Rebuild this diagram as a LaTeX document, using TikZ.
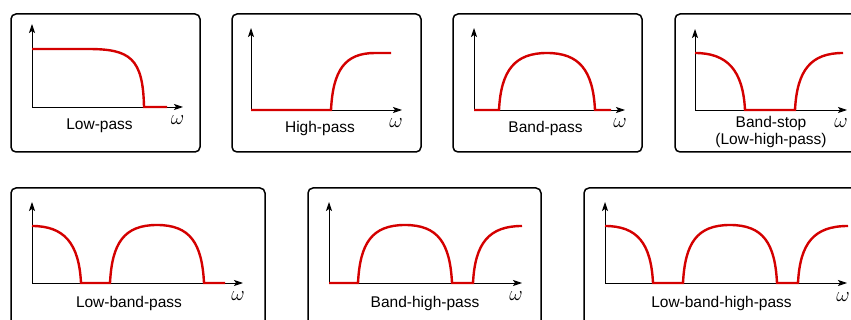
\documentclass[tikz,border=0pt]{standalone}
\usepackage{fontspec}
\setmainfont{Liberation Sans}
\usetikzlibrary{arrows.meta}

\definecolor{respred}{RGB}{212,0,0}

\begin{document}
\begin{tikzpicture}[
  x=1pt, y=-1pt,
  panel/.style={draw=black, line width=1.5pt, rounded corners=5pt},
  axis/.style={draw, -{Stealth[length=9pt,width=6pt,inset=2pt]}, line width=0.9pt},
  resp/.style={draw=respred, line width=2.4pt},
  lbl/.style={anchor=base, inner sep=0pt, font=\fontsize{15.5}{17}\selectfont},
  freq/.style={inner sep=0pt, font=\fontsize{22}{22}\selectfont}
]
\clip (0,0) rectangle (851,320);

% frames
\draw[panel] (11,14) rectangle (200,152);
\draw[panel] (232,14) rectangle (421,152);
\draw[panel] (453,14) rectangle (642,152);
\draw[panel] (675,14) rectangle (870,152);
\draw[panel] (11,188) rectangle (265,340);
\draw[panel] (308,188) rectangle (541,340);
\draw[panel] (584,188) rectangle (870,340);

% axes
\coordinate (o1) at (32,107);  \coordinate (y1) at (32,24);   \coordinate (x1) at (183,107);
\coordinate (o2) at (251,110); \coordinate (y2) at (251,28);  \coordinate (x2) at (402,110);
\coordinate (o3) at (474,110); \coordinate (y3) at (474,28);  \coordinate (x3) at (625,110);
\coordinate (o4) at (695,110); \coordinate (y4) at (695,29);  \coordinate (x4) at (847,110);
\coordinate (o5) at (32,283);  \coordinate (y5) at (32,202);  \coordinate (x5) at (243,283);
\coordinate (o6) at (329,283); \coordinate (y6) at (329,202); \coordinate (x6) at (522,283);
\coordinate (o7) at (605,283); \coordinate (y7) at (605,202); \coordinate (x7) at (847,283);

\draw[axis] (o1) -- (y1); \draw[axis] (o1) -- (x1);
\draw[axis] (o2) -- (y2); \draw[axis] (o2) -- (x2);
\draw[axis] (o3) -- (y3); \draw[axis] (o3) -- (x3);
\draw[axis] (o4) -- (y4); \draw[axis] (o4) -- (x4);
\draw[axis] (o5) -- (y5); \draw[axis] (o5) -- (x5);
\draw[axis] (o6) -- (y6); \draw[axis] (o6) -- (x6);
\draw[axis] (o7) -- (y7); \draw[axis] (o7) -- (x7);

% responses
\draw[resp] (32,49) -- (88,49) .. controls (130,49) and (143,58) .. (144,107) -- (167,107);
\draw[resp] (251,110) -- (331,110) .. controls (333,70) and (345,53) .. (375,53) -- (391,53);
\draw[resp] (474,110) -- (499,110) .. controls (501,70) and (515,53) .. (547,53)
  .. controls (579,53) and (593,70) .. (595,110) -- (611,110);
\draw[resp] (695,53) .. controls (727,53) and (743,70) .. (745,110) -- (795,110)
  .. controls (797,70) and (811,53) .. (843,53);
\draw[resp] (32,226) .. controls (64,226) and (79,243) .. (81,283) -- (110,283)
  .. controls (112,243) and (124,225) .. (157,225)
  .. controls (190,225) and (202,243) .. (204,283) -- (225,283);
\draw[resp] (329,283) -- (358,283) .. controls (360,243) and (372,225) .. (405,225)
  .. controls (438,225) and (450,243) .. (452,283) -- (473,283)
  .. controls (475,243) and (489,226) .. (522,226);
\draw[resp] (605,226) .. controls (637,226) and (651,243) .. (653,283) -- (683,283)
  .. controls (685,243) and (697,225) .. (730,225)
  .. controls (763,225) and (775,243) .. (777,283) -- (798,283)
  .. controls (800,243) and (814,226) .. (848,226);

% labels
\node[lbl] (lp) at (99.5,130) {Low-pass};
\node[lbl] (hp) at (320,133) {High-pass};
\node[lbl] (bp) at (545.5,133) {Band-pass};
\node[lbl, align=center] (bs) at (771,145) {Band-stop\\(Low-high-pass)};
\node[lbl] (lbp) at (129,308) {Low-band-pass};
\node[lbl] (bhp) at (425,308) {Band-high-pass};
\node[lbl] (lbhp) at (721.5,308) {Low-band-high-pass};

\node[freq] (w1) at (177.5,120) {$\omega$};
\node[freq] (w2) at (396,123) {$\omega$};
\node[freq] (w3) at (620,123) {$\omega$};
\node[freq] (w4) at (841,123) {$\omega$};
\node[freq] (w5) at (238,296) {$\omega$};
\node[freq] (w6) at (516,296) {$\omega$};
\node[freq] (w7) at (843,297) {$\omega$};
\end{tikzpicture}
\end{document}
